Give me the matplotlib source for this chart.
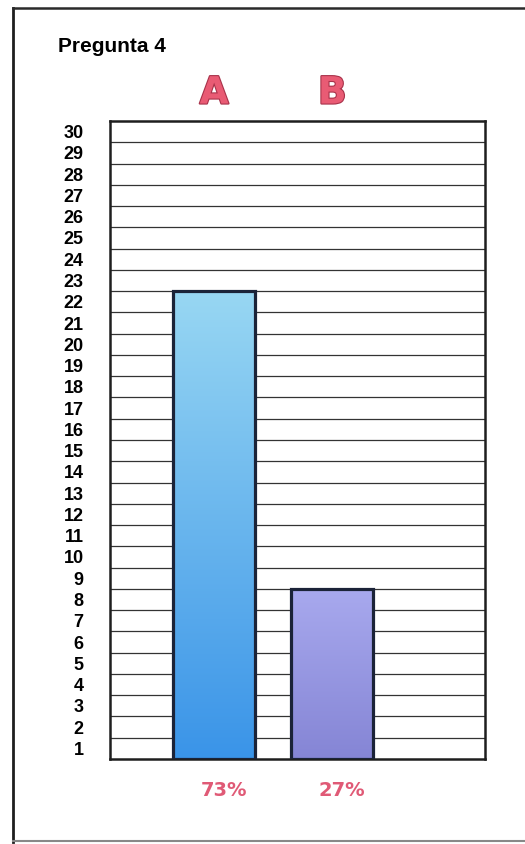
import numpy as np
import matplotlib
matplotlib.use("Agg")
import matplotlib.pyplot as plt
import matplotlib.patheffects as pe
from matplotlib.colors import LinearSegmentedColormap
from matplotlib.lines import Line2D

# data
categories = ["A", "B"]
values = [22, 8]
y_labels = [str(i) for i in range(1, 31)]

# gradient colours per bar (bottom -> top)
bar_grads = [("#3a94e8", "#98d7f3"), ("#8585d5", "#a8a9ee")]

fig = plt.figure(figsize=(5.25, 8.44), dpi=100)
fig.patch.set_facecolor("white")
ax = fig.add_axes([110 / 525, 1 - 759 / 844, 375 / 525, 638 / 844])

x = np.arange(len(categories))
width = 0.695

# horizontal rules between the numbered bands
ax.hlines(np.arange(1, 30), -0.881, 2.292, colors="#333333", linewidth=0.9, zorder=1)

bars = ax.bar(x, values, width=width, facecolor="none", edgecolor="#1b2338",
              linewidth=2.3, zorder=3)
for b, (c0, c1) in zip(bars, bar_grads):
    cmap = LinearSegmentedColormap.from_list("g", [c0, c1])
    grad = np.linspace(0, 1, 256).reshape(-1, 1)
    x0, y0 = b.get_x(), b.get_y()
    im = ax.imshow(grad, cmap=cmap, origin="lower", aspect="auto",
                   extent=[x0, x0 + b.get_width(), y0, y0 + b.get_height()], zorder=2)
    im.set_clip_path(b)
ax.set_xlim(-0.881, 2.292)
ax.set_ylim(0, 30)

for s in ax.spines.values():
    s.set_linewidth(1.8)
    s.set_color("#1e1e1e")
ax.set_xticks([])
ax.set_yticks(np.arange(0.5, 30, 1))
ax.set_yticklabels(y_labels, fontfamily="Liberation Sans", fontweight="bold", fontsize=13)
ax.tick_params(axis="y", length=0, pad=19)

# category letters above the plot
for xi, cat in zip(x, categories):
    ax.annotate(cat, xy=(xi, 30), xytext=(0, 27.5 * 0.72), textcoords="offset points",
                ha="center", va="center", fontsize=27, fontweight="bold",
                fontfamily="DejaVu Sans", color="#e95b74",
                path_effects=[pe.withStroke(linewidth=1.6, foreground="#a8324a")],
                annotation_clip=False)

# percentages under the bars
total = sum(values)
for xi, v in zip(x, values):
    ax.annotate(f"{round(v / total * 100)}%", xy=(xi + 0.08, 0), xytext=(0, -31 * 0.72),
                textcoords="offset points", ha="center", va="center", fontsize=14,
                fontweight="bold", fontfamily="DejaVu Sans", color="#e05a76",
                annotation_clip=False)

fig.text(58 / 525, 1 - 46 / 844, "Pregunta 4", fontfamily="Liberation Sans",
         fontweight="bold", fontsize=15, va="center", ha="left")

# outer frame (left, top, bottom)
fig.add_artist(Line2D([13 / 525, 13 / 525], [1 - 8 / 844, 1 - 842 / 844],
                      color="#1e1e1e", linewidth=2.0, transform=fig.transFigure))
fig.add_artist(Line2D([13 / 525, 1.0], [1 - 8 / 844, 1 - 8 / 844],
                      color="#2a2a2a", linewidth=1.8, transform=fig.transFigure))
fig.add_artist(Line2D([13 / 525, 1.0], [1 - 841 / 844, 1 - 841 / 844],
                      color="#888888", linewidth=1.5, transform=fig.transFigure))

fig.savefig("out.png", dpi=100)
